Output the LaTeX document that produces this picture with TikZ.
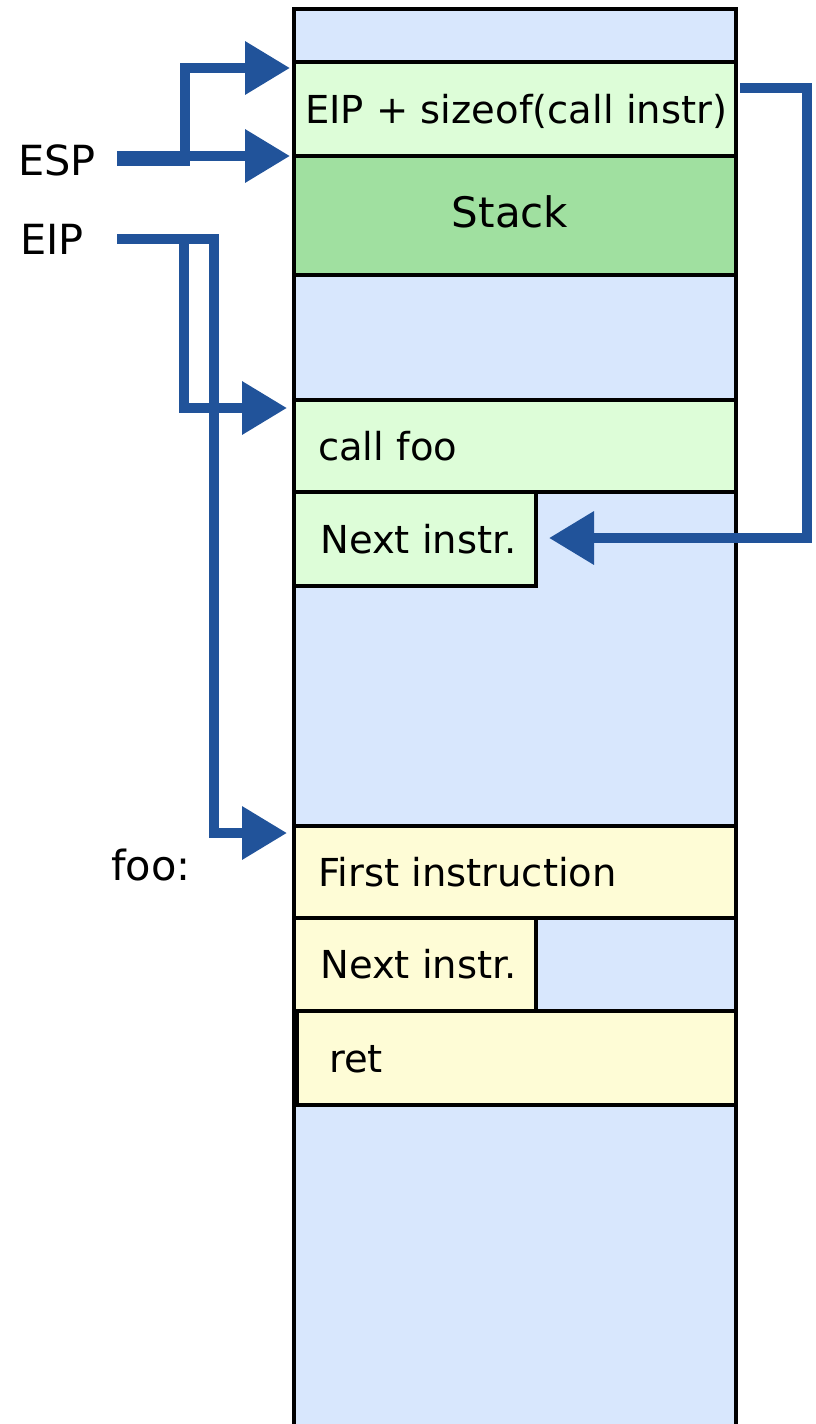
\documentclass[tikz,border=0pt]{standalone}
\usepackage{fontspec}
\setmainfont{DejaVu Sans}
\usetikzlibrary{positioning,arrows.meta}
\definecolor{memblue}{HTML}{D8E7FD}
\definecolor{codegreen}{HTML}{DDFDD8}
\definecolor{stackgreen}{HTML}{A0E0A0}
\definecolor{fooyellow}{HTML}{FEFCD6}
\definecolor{ptrblue}{HTML}{21539A}
\tikzset{
  cell/.style={draw=black, line width=3.5pt, anchor=north west, inner sep=0pt, outer sep=0pt},
  txt/.style={inner sep=0pt, text height=28pt, text depth=0pt, font=\fontsize{38.5pt}{44pt}\selectfont},
  reg/.style={inner sep=0pt, anchor=west, text height=30pt, text depth=0pt, font=\fontsize{41.5pt}{48pt}\selectfont},
  ptr/.style={draw=ptrblue, line width=10pt, -{Triangle[length=45pt,width=51pt]}}
}
\begin{document}
\begin{tikzpicture}[x=1pt,y=-1pt]
                \useasboundingbox (0,0) rectangle (816,1424);
                \clip (0,0) rectangle (816,1424);
                % memory column
                \node[cell, fill=memblue, minimum width=442pt, minimum height=1420pt] (mem) at (294,9) {};
                \node[cell, fill=codegreen, minimum width=442pt, minimum height=94pt] (retaddr) at (294,62) {};
                \node[cell, fill=stackgreen, minimum width=442pt, minimum height=119pt] (stack) at (294,156) {};
                \node[cell, fill=codegreen, minimum width=442pt, minimum height=92pt] (callfoo) at (294,400) {};
                \node[cell, fill=codegreen, minimum width=242pt, minimum height=94pt] (nextA) at (294,492) {};
                \node[cell, fill=fooyellow, minimum width=442pt, minimum height=92pt] (firstinstr) at (294,826) {};
                \node[cell, fill=fooyellow, minimum width=242pt, minimum height=93pt] (nextB) at (294,918) {};
                \node[cell, fill=fooyellow, minimum width=439pt, minimum height=94pt] (retinstr) at (297,1011) {};
                % texts
                \node[txt, right=11pt of retaddr.west] (retaddrtxt) {EIP + sizeof(call instr)};
                \node[txt, text height=31pt, font=\fontsize{42pt}{48pt}\selectfont] (stacktxt) at ([xshift=-5pt,yshift=4pt]stack.center) {Stack};
                \node[txt, right=24pt of callfoo.west] (callfootxt) {call foo};
                \node[txt, right=26pt of nextA.west] (nextAtxt) {Next instr.};
                \node[txt, right=24pt of firstinstr.west] (firsttxt) {First instruction};
                \node[txt, right=26pt of nextB.west] (nextBtxt) {Next instr.};
                \node[txt, right=32pt of retinstr.west] (rettxt) {ret};
                % registers
                \node[reg] (esp) at (18,160) {ESP};
                \node[reg] (eip) at (20,239) {EIP};
                \node[reg] (foo) at (111,865) {foo:};
                \coordinate (espstart) at (117,156);
                \coordinate (espbend) at (117,161);
                \coordinate (spnew) at (290,68);
                \coordinate (spold) at (290,156);
                \coordinate (eipstart) at (117,239);
                \coordinate (eipsplit) at (184,239);
                \coordinate (tocall) at (287,408);
                \coordinate (tofoo) at (287,833);
                \coordinate (retout) at (740,88);
                \coordinate (retin) at (549,538);
                % pointers
                \draw[ptr] (espstart) -- (spold);
                \draw[ptr] (espbend) -| (185,68) -- (spnew);
                \draw[ptr] (eipstart) -| (214,833) -- (tofoo);
                \draw[ptr] (eipsplit) |- (tocall);
                \draw[ptr] (retout) -- (807,88) |- (retin);
            \end{tikzpicture}
\end{document}
